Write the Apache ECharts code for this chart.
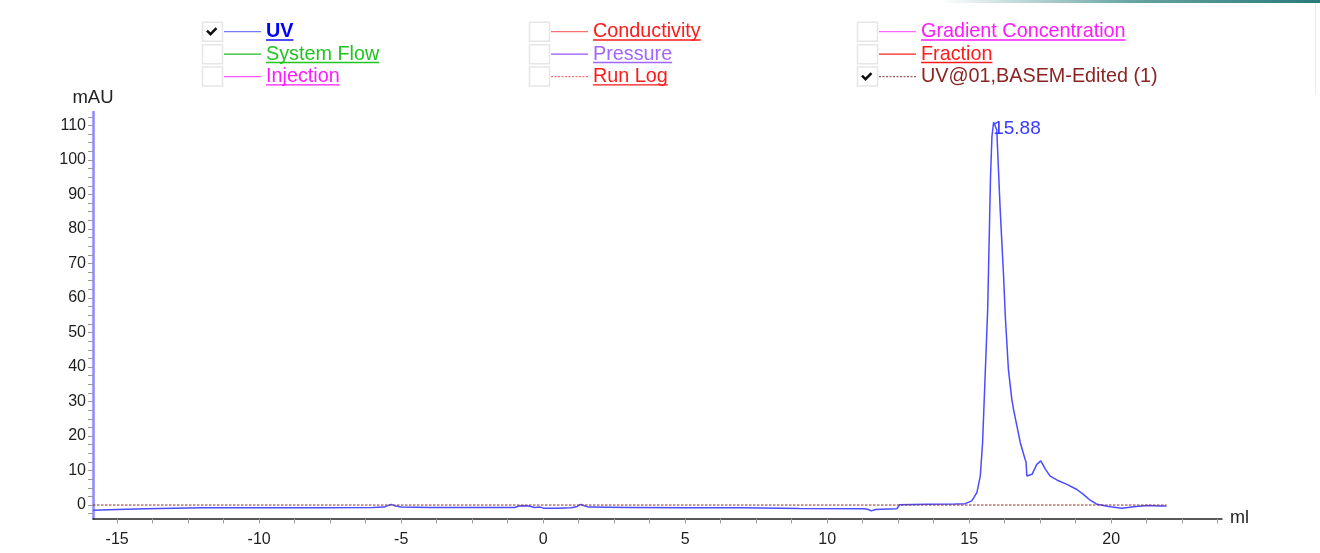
<!DOCTYPE html>
<html><head><meta charset="utf-8">
<script src="https://cdn.jsdelivr.net/npm/echarts@6/dist/echarts.min.js"></script>
<style>html,body{margin:0;padding:0;background:#fff}#c{width:1320px;height:553px}</style>
</head><body><div id="c"></div>
<script>
// ---- data ----
const uvX = [-15.85,-15.0,-14.0,-13.0,-12.0,-10.0,-8.0,-6.0,-5.6,-5.45,-5.35,-5.2,-5.0,-4.0,-2.0,-1.0,-0.85,-0.7,-0.5,-0.3,-0.1,0.0,0.5,1.0,1.2,1.32,1.45,1.6,3.0,5.0,7.0,9.0,11.3,11.45,11.55,11.7,11.9,12.45,12.5,12.55,13.5,14.5,14.86,15.09,15.27,15.39,15.47,15.56,15.65,15.70,15.75,15.80,15.86,15.88,15.97,16.09,16.21,16.27,16.38,16.50,16.56,16.80,16.97,17.0,17.03,17.21,17.38,17.52,17.68,17.85,18.1,18.44,18.79,19.02,19.26,19.50,19.96,20.38,20.79,21.26,21.73,21.94];
const uvY = [-1.5,-1.3,-1.1,-0.9,-0.8,-0.8,-0.8,-0.7,-0.6,-0.1,0.2,-0.3,-0.6,-0.7,-0.7,-0.7,-0.3,-0.2,-0.3,-0.7,-0.6,-0.9,-0.9,-0.8,-0.4,0.2,-0.2,-0.6,-0.7,-0.8,-0.8,-1.0,-1.1,-1.3,-1.7,-1.3,-1.2,-1.1,-0.5,0.1,0.2,0.3,0.4,1.2,3.6,8.4,18,37.3,56.7,76,95.2,106.8,111.0,111.2,108.7,85.6,66.3,54.7,39.3,30.6,27.7,18,13.2,12.5,8.4,8.9,11.8,12.8,10.4,8.4,7.2,6.0,4.5,3.1,1.4,0.2,-0.5,-0.9,-0.5,-0.1,-0.3,-0.3];
const baseX = [-15.85, 21.95];
const baseY = [0, 0];
const peakX = 15.88, peakY = 111.2, peakLabel = '15.88';
const xLabelValues = [-15,-10,-5,0,5,10,15,20];
const yLabelValues = [0,10,20,30,40,50,60,70,80,90,100,110];
const legendNames = [
  ['UV','System Flow','Injection'],
  ['Conductivity','Pressure','Run Log'],
  ['Gradient Concentration','Fraction','UV@01,BASEM-Edited (1)']
];
const legendTextColors = [
  ['#0000ff','#22c422','#ff1aff'],
  ['#ff1a1a','#a066ff','#ff1a1a'],
  ['#ff1aff','#ff1a1a','#8b2323']
];
const legendLineColors = [
  ['#7878ff','#22bb22','#ff55ff'],
  ['#ff7070','#9955ff','#ff7070'],
  ['#ff66ff','#ff2020','#a05a5a']
];
const legendDashed = ['Run Log','UV@01,BASEM-Edited (1)'];
const legendChecked = ['UV','UV@01,BASEM-Edited (1)'];
const legendBold = ['UV'];
const legendPlain = ['UV@01,BASEM-Edited (1)'];

// ---- ticks ----
const xTickValues = []; for (let v = -15; v <= 23.76; v += 1.25) xTickValues.push(+v.toFixed(2));
const yTickValues = []; for (let v = -2.5; v <= 113; v += 2.5) yTickValues.push(+v.toFixed(2));

const FONT = '"Liberation Sans", Arial, sans-serif';
const chart = echarts.init(document.getElementById('c'), null, {renderer: 'canvas'});

// ---- legend graphics ----
const mctx = document.createElement('canvas').getContext('2d');
const LFS = 19.8;
const colX = [202, 529, 857];
const rowY = [31.7, 54.2, 76.6];
const graphics = [];
legendNames.forEach((col, ci) => {
  col.forEach((name, ri) => {
    const bx = colX[ci], cy = rowY[ri];
    graphics.push({type:'rect', shape:{x:bx+0.5, y:cy-9.5, width:20, height:19}, style:{fill:'#fff', stroke:'#e6e6e6', lineWidth:1.5}, silent:true});
    if (legendChecked.includes(name)) {
      graphics.push({type:'polyline', shape:{points:[[bx+5,cy-1],[bx+8.5,cy+2.5],[bx+14.5,cy-3.5]]}, style:{stroke:'#111', lineWidth:2.6, fill:null, lineJoin:'miter'}, silent:true});
    }
    const dashed = legendDashed.includes(name);
    graphics.push({type:'line', shape:{x1:bx+22, y1:cy, x2:bx+59, y2:cy}, style:{stroke:legendLineColors[ci][ri], lineWidth:1.2, lineDash: dashed ? [2,1.5] : null}, silent:true});
    const bold = legendBold.includes(name);
    graphics.push({type:'text', x:bx+64, y:cy, style:{text:name, fill:legendTextColors[ci][ri], font:(bold?'bold ':'') + LFS + 'px ' + FONT, textVerticalAlign:'middle', textAlign:'left'}, silent:true});
    if (!legendPlain.includes(name)) {
      mctx.font = (bold?'bold ':'') + LFS + 'px ' + FONT;
      const w = mctx.measureText(name).width;
      graphics.push({type:'line', shape:{x1:bx+64, y1:cy+8.3, x2:bx+64+w, y2:cy+8.3}, style:{stroke:legendTextColors[ci][ri], lineWidth:1.4}, silent:true});
    }
  });
});
// decorative top-right bar and frame edge
graphics.push({type:'rect', shape:{x:940, y:0, width:380, height:3}, style:{fill:new echarts.graphic.LinearGradient(0,0,1,0,[{offset:0,color:'rgba(40,125,125,0)'},{offset:0.5,color:'rgba(40,125,125,0.7)'},{offset:1,color:'#2a7a7a'}])}, silent:true});
graphics.push({type:'line', shape:{x1:1315.5, y1:3, x2:1315.5, y2:95}, style:{stroke:'#ececec', lineWidth:1}, silent:true});

const option = {
  animation: false,
  backgroundColor: '#fff',
  grid: {left: 93, right: 98, top: 112, bottom: 34.5, containLabel: false},
  xAxis: {
    type: 'value', min: -15.85, max: 23.9,
    name: 'ml', nameLocation: 'end', nameGap: 8,
    nameTextStyle: {color:'#222', fontSize:18, fontFamily:FONT, verticalAlign:'middle', padding:[3,0,0,0]},
    axisLine: {show:true, onZero:false, lineStyle:{color:'#222', width:1.5}},
    axisTick: {show:true, length:5, lineStyle:{color:'#9a9a9a', width:1}, customValues: xTickValues},
    axisLabel: {show:true, customValues: xLabelValues, margin: 13, color:'#1e1e1e', fontSize:16, fontFamily:FONT},
    splitLine: {show:false}
  },
  yAxis: {
    type: 'value', min: -3.9, max: 113.9,
    name: 'mAU', nameLocation: 'end', nameGap: 5,
    nameTextStyle: {color:'#222', fontSize:18.5, fontFamily:FONT, align:'center'},
    axisLine: {show:true, onZero:false, lineStyle:{color:'#8f8fff', width:2.6}},
    axisTick: {show:true, length:5, lineStyle:{color:'#9a9a9a', width:1}, customValues: yTickValues},
    axisLabel: {show:true, customValues: yLabelValues, margin: 7, color:'#1e1e1e', fontSize:16, fontFamily:FONT},
    splitLine: {show:false}
  },
  graphic: graphics,
  series: [
    {
      type: 'line', name: 'UV',
      data: uvX.map((x, i) => [x, uvY[i]]),
      symbol: 'none', showSymbol: false, smooth: false,
      lineStyle: {color:'#4b4bff', width:1.5},
      markPoint: {
        symbol: 'circle', symbolSize: 0, silent: true,
        data: [{coord: [peakX, peakY], value: peakLabel}],
        label: {show:true, position:'right', distance:0, offset:[-1,7], formatter: peakLabel, color:'#3a3aff', fontSize:19, fontFamily:FONT}
      },
      z: 3
    },
    {
      type: 'line', name: 'UV@01,BASEM-Edited (1)',
      data: baseX.map((x, i) => [x, baseY[i]]),
      symbol: 'none', showSymbol: false,
      lineStyle: {color:'#952a2a', width:1, type:[2.5,1.5]},
      z: 4
    }
  ]
};
chart.setOption(option);
</script></body></html>
